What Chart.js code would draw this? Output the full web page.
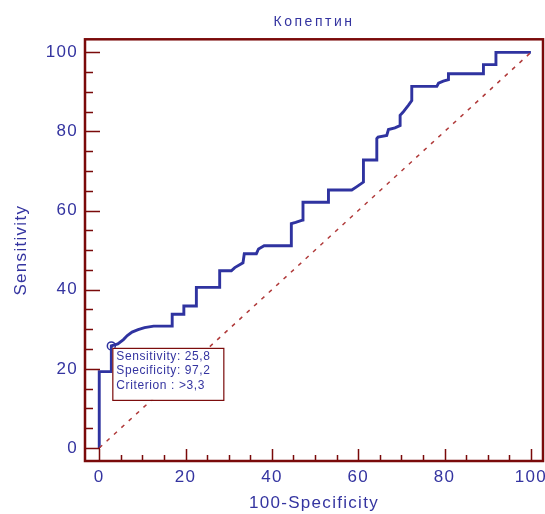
<!DOCTYPE html>
<html><head><meta charset="utf-8">
<script src="https://cdn.jsdelivr.net/npm/chart.js@4"></script>
<style>html,body{margin:0;padding:0;background:#fff;overflow:hidden}canvas{display:block;position:absolute;left:0;top:0}</style>
</head><body><canvas id="c" width="545" height="514"></canvas>
<script>
// ROC curve (100-Specificity, Sensitivity)
const rocX = [0, 0, 2.8, 2.8, 4.3, 5.6, 6.5, 7.6, 9.0, 10.5, 12.6, 16.9, 16.9, 19.6, 19.6, 22.5, 22.5, 27.9, 27.9, 30.6, 31.4, 33.3, 33.6, 36.4, 36.9, 38.2, 44.5, 44.5, 45.5, 46.9, 47.2, 47.2, 53.1, 53.1, 58.5, 59.6, 61.2, 61.2, 64.3, 64.3, 64.6, 66.6, 67.0, 68.5, 69.7, 69.7, 70.4, 71.6, 72.4, 72.4, 78.2, 78.6, 79.7, 80.9, 80.9, 89.0, 89.0, 91.9, 91.9, 100];
const rocY = [0, 19.3, 19.3, 25.8, 26.3, 27.4, 28.4, 29.3, 29.9, 30.4, 30.8, 30.8, 33.8, 33.8, 35.9, 35.9, 40.6, 40.6, 44.8, 44.8, 45.6, 46.8, 49.1, 49.1, 50.3, 51.1, 51.1, 56.7, 57.0, 57.5, 57.6, 62.1, 62.1, 65.2, 65.2, 66.0, 67.2, 72.8, 72.8, 78.2, 78.6, 79.0, 80.5, 80.9, 81.5, 84.1, 84.9, 86.6, 87.8, 91.4, 91.4, 92.2, 92.7, 93.1, 94.6, 94.6, 96.9, 96.9, 100, 100];
const diagX = [0, 100];
const diagY = [0, 100];
const cutX = [2.8];
const cutY = [25.8];
const cutLabels = ["Sensitivity: 25,8", "Specificity: 97,2", "Criterion : >3,3"];
const majorTicks = [0, 20, 40, 60, 80, 100];
const minorTicks = [5, 10, 15, 25, 30, 35, 45, 50, 55, 65, 70, 75, 85, 90, 95];

const TXT = '#3434a0';
const FRAME = '#7a0a0a';
const FONT = "'Liberation Sans', Arial, sans-serif";
const SPACING = '1.3px';

const pts = (xs, ys) => xs.map((x, i) => ({x: x, y: ys[i]}));

const framePlugin = {
  id: 'frame',
  beforeLayout(chart) { chart.ctx.letterSpacing = SPACING; },
  beforeDraw(chart) {
    const ctx = chart.ctx;
    ctx.letterSpacing = SPACING;
    const tb = chart.titleBlock;
    if (tb && !tb._patched) {
      const orig = tb.draw.bind(tb);
      tb.draw = function () { ctx.save(); ctx.letterSpacing = '2.5px'; orig(); ctx.restore(); };
      tb._patched = true;
    }
  },
  afterDatasetsDraw(chart) {
    const {ctx, chartArea: a, scales: {x, y}} = chart;
    ctx.save();
    ctx.letterSpacing = '0px';
    ctx.strokeStyle = FRAME;
    ctx.lineWidth = 1.5;
    ctx.beginPath();
    majorTicks.forEach(v => {
      const px = Math.round(x.getPixelForValue(v)) + 0.5;
      ctx.moveTo(px, a.bottom); ctx.lineTo(px, a.bottom - 12);
      const py = Math.round(y.getPixelForValue(v)) + 0.5;
      ctx.moveTo(a.left, py); ctx.lineTo(a.left + 15, py);
    });
    minorTicks.forEach(v => {
      const px = Math.round(x.getPixelForValue(v)) + 0.5;
      ctx.moveTo(px, a.bottom); ctx.lineTo(px, a.bottom - 6);
      const py = Math.round(y.getPixelForValue(v)) + 0.5;
      ctx.moveTo(a.left, py); ctx.lineTo(a.left + 8, py);
    });
    ctx.stroke();
    ctx.lineWidth = 2.5;
    ctx.strokeRect(a.left, a.top, a.right - a.left, a.bottom - a.top);

    // criterion label box
    const bx = x.getPixelForValue(cutX[0]) + 1;
    const by = y.getPixelForValue(cutY[0]) + 2;
    const bw = 111, bh = 52;
    ctx.fillStyle = '#fff';
    ctx.fillRect(bx, by, bw, bh);
    ctx.lineWidth = 1.2;
    ctx.strokeRect(bx + 0.5, by + 0.5, bw, bh);
    ctx.fillStyle = TXT;
    ctx.font = '12px ' + FONT;
    ctx.letterSpacing = '0.6px';
    ctx.textBaseline = 'middle';
    ctx.textAlign = 'left';
    cutLabels.forEach((t, i) => ctx.fillText(t, bx + 4, by + 8.5 + i * 14.5));
    ctx.restore();
  }
};

new Chart(document.getElementById('c'), {
  type: 'scatter',
  data: {
    datasets: [
      {data: pts(diagX, diagY), showLine: true, borderColor: '#b03a3a', borderWidth: 1.5, borderDash: [4, 6], pointRadius: 0},
      {data: pts(rocX, rocY), showLine: true, borderColor: '#2f33a0', borderWidth: 2.9, pointRadius: 0, tension: 0},
      {data: pts(cutX, cutY), pointRadius: 4, pointBackgroundColor: '#fff', pointBorderColor: '#2f33a0', pointBorderWidth: 1.5}
    ]
  },
  options: {
    responsive: false, animation: false, devicePixelRatio: 1,
    layout: {autoPadding: false, padding: {left: 0, right: 2, top: 0, bottom: 0}},
    plugins: {
      legend: {display: false},
      tooltip: {enabled: false},
      title: {display: true, text: 'Копептин', color: TXT, fullSize: false,
        font: {family: FONT, size: 14, weight: 'normal'}, padding: {top: 14, bottom: 8.5}}
    },
    scales: {
      x: {type: 'linear', min: -3.3, max: 102.8,
        afterBuildTicks: s => { s.ticks = majorTicks.map(v => ({value: v})); },
        afterFit: s => { s.height = 53; s.paddingLeft = 0; s.paddingRight = 0; },
        grid: {display: false, drawTicks: false}, border: {display: false},
        ticks: {color: TXT, font: {family: FONT, size: 17}, padding: 6, maxRotation: 0, autoSkip: false},
        title: {display: true, text: '100-Specificity', color: TXT, font: {family: FONT, size: 17}, padding: {top: -2, bottom: 0}}
      },
      y: {type: 'linear', min: -3.3, max: 103.3,
        afterBuildTicks: s => { s.ticks = majorTicks.map(v => ({value: v})); },
        afterFit: s => { s.width = 85; s.paddingTop = 0; s.paddingBottom = 0; s.paddingLeft = 0; s.paddingRight = 0; },
        grid: {display: false, drawTicks: false}, border: {display: false},
        ticks: {color: TXT, font: {family: FONT, size: 17}, padding: 7, autoSkip: false},
        title: {display: true, text: 'Sensitivity', color: TXT, font: {family: FONT, size: 17}, padding: {top: 11, bottom: 0}}
      }
    }
  },
  plugins: [framePlugin]
});
</script>
</body></html>
